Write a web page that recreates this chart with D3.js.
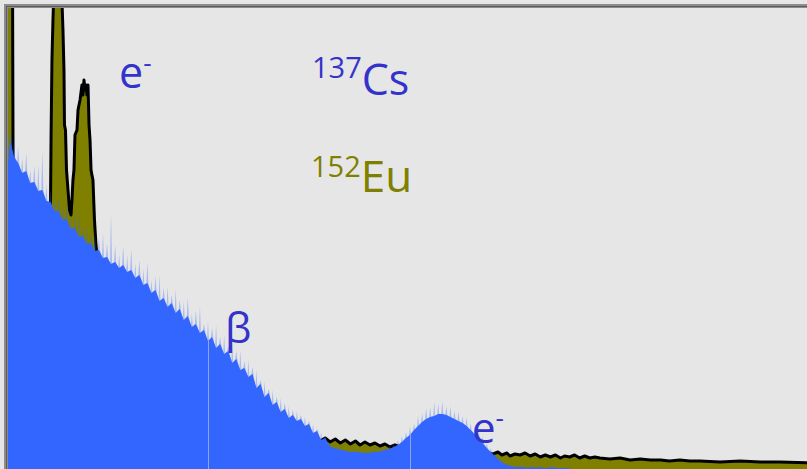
<!DOCTYPE html>
<html lang="en">
<head>
<meta charset="UTF-8">
<title>137Cs and 152Eu spectra</title>
<script src="https://d3js.org/d3.v7.min.js"></script>
<style>
    body, html { margin: 0; background: #e6e6e6; }
    svg { display: block; }
    text { font-family: "Open Sans", "Noto Sans", sans-serif; }
</style>
</head>
<body>
<script>
    // energy axis (arbitrary units), one Cs sample every csStep
    var csStep = 4;
    // 137Cs spectrum: solid body and the noisy upper envelope
    var csSolid = [
        279, 329, 312, 306, 296, 298, 286, 287, 278, 279,
        268, 267, 258, 258, 249, 250, 240, 241, 232, 233,
        225, 226, 218, 219, 211, 212, 205, 207, 201, 204,
        197, 199, 191, 194, 184, 186, 176, 179, 168, 171,
        162, 166, 156, 160, 149, 153, 142, 145, 136, 139,
        128, 132, 121, 125, 115, 118, 106, 110, 99, 101,
        92, 95, 81, 85, 72, 76, 64, 67, 57, 60,
        51, 54, 48, 50, 43, 45, 36, 38, 29, 31,
        23, 21, 20, 19, 18, 17, 17, 17, 16, 16,
        16, 17, 17, 18, 19, 20, 22, 24, 27, 31,
        34, 39, 43, 47, 50, 52, 53, 55, 55, 54,
        52, 50, 48, 46, 43, 39, 35, 31, 26, 21,
        17, 13, 9, 6, 4, 3, 2, 2, 2, 1,
        2, 1, 2, 1, 1, 2, 1, 1, 1, 1, 0
    ];
    var csFringe = [
        287, 341, 331, 323, 311, 316, 299, 303, 304, 318,
        285, 279, 270, 275, 264, 268, 254, 255, 260, 242,
        243, 236, 240, 231, 236, 226, 256, 224, 215, 223,
        214, 220, 206, 209, 200, 207, 189, 193, 194, 181,
        183, 174, 180, 169, 168, 171, 156, 159, 163, 145,
        148, 141, 144, 132, 134, 123, 127, 118, 119, 108,
        109, 102, 99, 89, 88, 80, 79, 72, 71, 66,
        63, 59, 58, 54, 52, 48, 45, 40, 37, 33,
        27, 25, 23, 23, 21, 21, 20, 21, 19, 20,
        19, 21, 20, 22, 22, 24, 25, 29, 33, 37,
        43, 46, 53, 56, 61, 62, 67, 65, 68, 63,
        63, 58, 58, 53, 52, 46, 43, 37, 33, 26,
        21, 16, 12, 8, 6, 4, 3, 3, 3, 2,
        3, 2, 3, 2, 2, 3, 2, 2, 2, 2, 0
    ];

    // 152Eu spectrum
    var euEnergy = [
        0, 5, 6.5, 7.2, 10, 24,
        42.6, 44.1, 44.6, 45.5, 46.5, 47.5, 51.5, 55, 56.4, 57.4,
        57.9, 58.9, 59.9, 61.4, 62.9, 64.4, 65.3, 66.3, 67.3, 68.3,
        70.3, 71.3, 73.3, 75.2, 76.2, 77.2, 78.2, 79.2, 80.2, 81.2,
        82.2, 83.2, 84.2, 85.1, 86.1, 87.6, 89.1, 90.6, 93, 142.6,
        192, 241.6, 291,
        311, 316, 321, 326, 331, 336, 341, 346, 350.5, 355.4,
        360.4, 365.3, 370.3, 375.2, 380.2, 385.1, 390.1, 400, 429.7, 449.5,
        469.3, 477.2, 482.2, 487.1, 491, 496, 499, 504, 509, 514,
        519, 524, 529, 534, 539, 544, 549, 553, 558, 563,
        568, 573, 578, 583, 588, 598, 608, 618, 628, 638,
        648, 657, 667, 677, 687, 707, 727, 747, 766, 800
    ];
    var euCounts = [
        500, 500, 480, 240, 220, 205,
        200, 269, 329, 409, 449, 480, 490, 480, 439, 399,
        344, 339, 299, 279, 259, 254, 269, 289, 299, 334,
        339, 359, 369, 384, 374, 389, 379, 384, 374, 384,
        344, 329, 299, 294, 289, 249, 224, 209, 195, 130,
        95, 65, 40,
        28, 31, 27, 30, 26, 29, 25, 28, 24, 27,
        24, 26, 23, 25, 22, 24, 22, 21, 20, 18,
        16, 16, 15, 17, 14, 16, 13, 15, 14, 16,
        13, 15, 12, 14, 12, 14, 11, 13, 12, 14,
        11, 13, 11, 12, 11, 10, 11, 9, 10, 9,
        9, 8, 9, 8, 8, 7, 8, 7, 7, 6
    ];

    var gridEnergies = [200, 400, 600];

    var W = 807, H = 469;
    var svg = d3.select("body").append("svg").attr("width", W).attr("height", H);

    var x = d3.scaleLinear().domain([0, 800]).range([6, 814]);
    var y = d3.scaleLinear().domain([0, 460]).range([469, 9]);

    svg.append("rect").attr("width", W).attr("height", H).attr("fill", "#e6e6e6");

    var defs = svg.append("defs");
    defs.append("clipPath").attr("id", "plot")
        .append("rect").attr("x", 8).attr("y", 8).attr("width", W - 8).attr("height", H - 8);

    var cs = csSolid.map((v, i) => ({ e: i * csStep, v: v, f: csFringe[i] }));
    var eu = euEnergy.map((e, i) => ({ e: e, v: euCounts[i] }));

    var area = d3.area().x(d => x(d.e)).y0(y(0)).y1(d => y(d.v));
    var line = d3.line().x(d => x(d.e)).y(d => y(d.v));

    var g = svg.append("g").attr("clip-path", "url(#plot)");

    // Eu behind
    g.append("path").datum(eu).attr("d", area).attr("fill", "#808000");
    g.append("path").datum(eu).attr("d", line)
        .attr("fill", "none").attr("stroke", "#000").attr("stroke-width", 3)
        .attr("stroke-linejoin", "round");

    // Cs noisy envelope as thin spikes between solid samples
    var spikes = [];
    cs.forEach(function (d) {
        spikes.push({ e: d.e - 1, v: d.v });
        spikes.push({ e: d.e, v: d.f });
        spikes.push({ e: d.e + 1, v: d.v });
    });
    g.append("path").datum(spikes).attr("d", area)
        .attr("fill", "#3366ff").attr("fill-opacity", 0.35);

    g.append("path").datum(cs).attr("d", area).attr("fill", "#3366ff");

    // faint grid lines only visible through the Cs fill
    defs.append("clipPath").attr("id", "csclip")
        .append("path").datum(cs).attr("d", area);
    g.append("g").attr("clip-path", "url(#csclip)")
        .selectAll("line").data(gridEnergies).enter().append("line")
        .attr("x1", d => Math.round(x(d)) + 0.5).attr("x2", d => Math.round(x(d)) + 0.5)
        .attr("y1", 9).attr("y2", H)
        .attr("stroke", "#8ea5ee").attr("stroke-width", 1);

    // frame
    svg.append("rect").attr("x", 4).attr("y", 4).attr("width", 4).attr("height", H).attr("fill", "#8c8c8c");
    svg.append("rect").attr("x", 4).attr("y", 4).attr("width", W).attr("height", 4).attr("fill", "#8c8c8c");
    svg.append("rect").attr("x", 6).attr("y", 6).attr("width", 1).attr("height", H).attr("fill", "#5c5c5c");
    svg.append("rect").attr("x", 6).attr("y", 6).attr("width", W).attr("height", 1).attr("fill", "#5c5c5c");

    // labels
    var blue = "#3333cc", olive = "#808000";

    var t1 = svg.append("text").attr("x", 119).attr("y", 88).attr("fill", blue).attr("font-size", 43);
    t1.append("tspan").text("e");
    t1.append("tspan").attr("font-size", 26).attr("dy", -16).text("-");

    var t2 = svg.append("text").attr("x", 312).attr("y", 95).attr("fill", blue).attr("font-size", 43);
    t2.append("tspan").attr("font-size", 29).attr("dy", -17).text("137");
    t2.append("tspan").attr("dy", 17).text("Cs");

    var t3 = svg.append("text").attr("x", 311).attr("y", 192).attr("fill", olive).attr("font-size", 44);
    t3.append("tspan").attr("font-size", 29).attr("dy", -15).text("152");
    t3.append("tspan").attr("dy", 15).text("Eu");

    svg.append("text").attr("x", 225).attr("y", 343).attr("fill", blue).attr("font-size", 42).text("β");

    var t5 = svg.append("text").attr("x", 472).attr("y", 443).attr("fill", blue).attr("font-size", 42);
    t5.append("tspan").text("e");
    t5.append("tspan").attr("font-size", 26).attr("dy", -16).text("-");
</script>
</body>
</html>
